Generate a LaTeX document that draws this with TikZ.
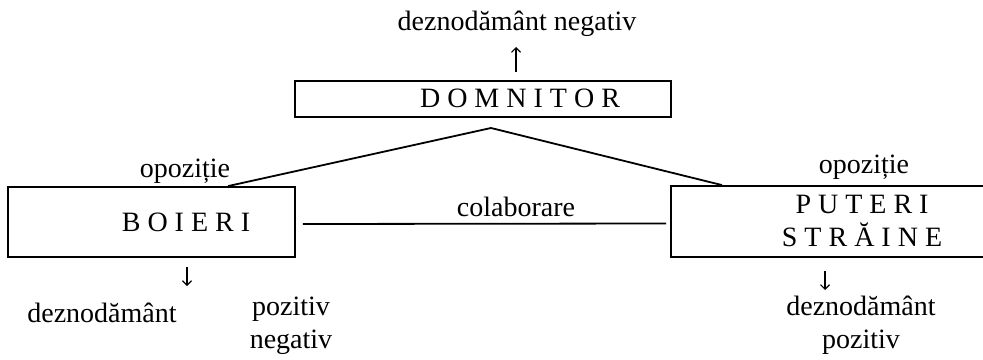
\documentclass[tikz,border=0pt]{standalone}
\usepackage{fontspec}
\setmainfont{Liberation Serif}
\usetikzlibrary{arrows.meta}

\begin{document}
\begin{tikzpicture}[x=1pt, y=-1pt, line width=1.8pt,
	box/.style={draw=black, rectangle, inner sep=0pt},
	txt/.style={inner sep=0pt, align=center, font=\fontsize{28}{33}\selectfont},
	sageata/.style={line width=1.1pt, -{Straight Barb[length=4.5pt,width=9pt]}}]
	\useasboundingbox (0,0) rectangle (983,359);
	% casetele
	\node [box, minimum width=376pt, minimum height=36pt] (domnitor) at (483,99) {};
	\node [box, minimum width=287pt, minimum height=70pt] (boieri) at (151.5,222) {};
	\node [box, minimum width=319pt, minimum height=71pt] (puteri) at (830.5,221.5) {};
	\node [txt] (domnitortxt) at (520,98) {D O M N I T O R};
	\node [txt] (boieritxt) at (186,222) {B O I E R I};
	\node [txt] (puteritxt) at (862,221) {P U T E R I\\S T R Ă I N E};
	% etichete
	\node [txt] (deznegsus) at (517,24) {deznodământ negativ};
	\node [txt] (opozstanga) at (185,171) {opoziție};
	\node [txt] (opozdreapta) at (864,167) {opoziție};
	\node [txt] (colab) at (516,207) {colaborare};
	\node [txt] (deznodst) at (102,313) {deznodământ};
	\node [txt] (pozneg) at (291,326) {pozitiv\\negativ};
	\node [txt] (deznoddr) at (861,325) {deznodământ\\pozitiv};
	% sagetile
	\coordinate (sus1) at (516,72);
	\coordinate (sus2) at (516,47);
	\coordinate (st1) at (187,267);
	\coordinate (st2) at (187,286);
	\coordinate (dr1) at (825,271);
	\coordinate (dr2) at (825,290);
	\draw [sageata] (sus1) -- (sus2);
	\draw [sageata] (st1) -- (st2);
	\draw [sageata] (dr1) -- (dr2);
	% legaturi
	\coordinate (varf) at (491,128);
	\draw (varf) -- ([xshift=76.5pt]boieri.north);
	\draw (varf) -- ([xshift=-108.5pt]puteri.north);
	\draw ([xshift=7pt,yshift=-2pt]boieri.east) -- ([xshift=-4pt,yshift=-2pt]puteri.west);
\end{tikzpicture}
\end{document}
